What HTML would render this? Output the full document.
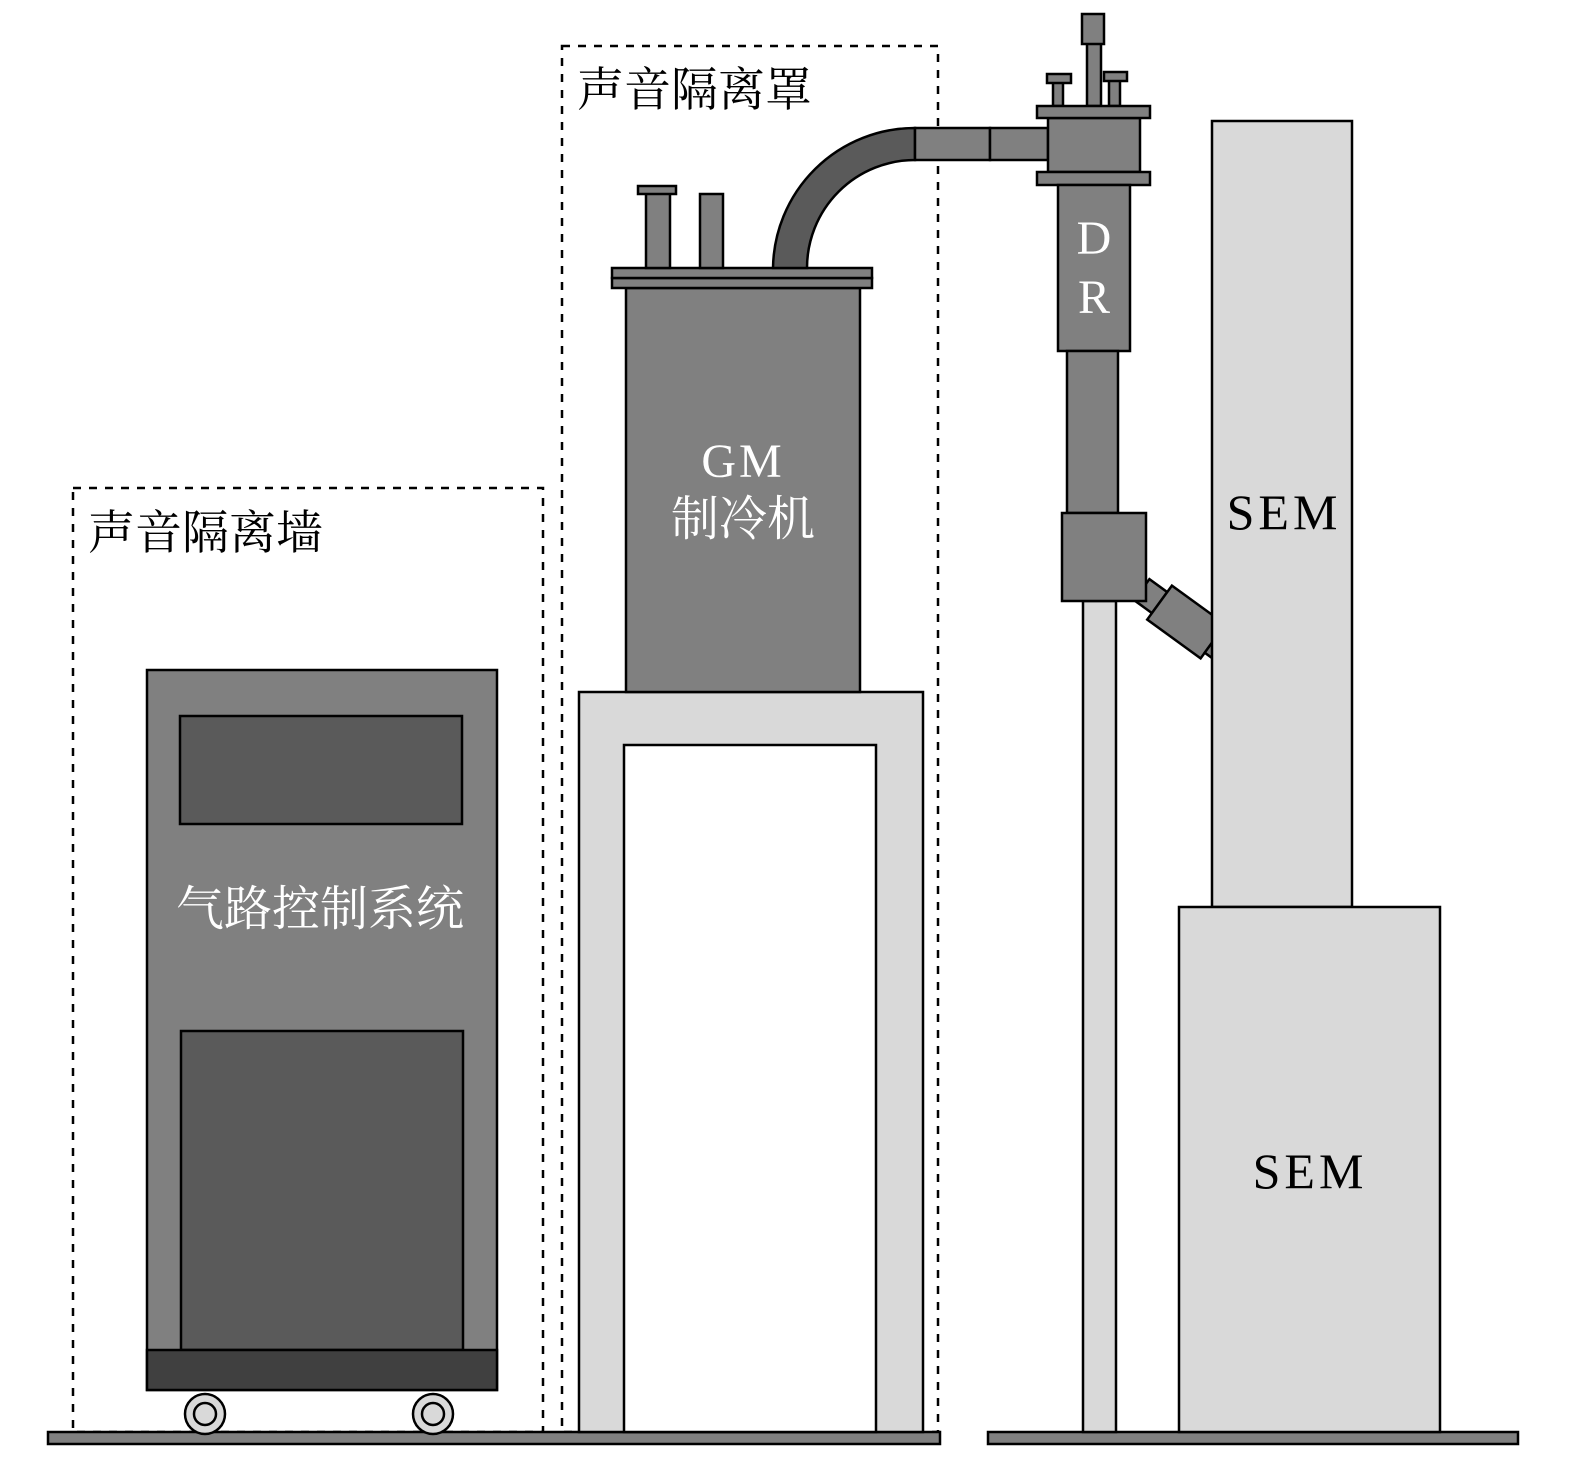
<!DOCTYPE html>
<html><head><meta charset="utf-8"><style>html,body{margin:0;padding:0;background:#fff;overflow:hidden}svg{display:block}</style></head><body>
<svg width="1575" height="1467" viewBox="0 0 1575 1467" xmlns="http://www.w3.org/2000/svg" font-family="'Liberation Serif','Noto Serif CJK SC',serif">
<g stroke="#000" stroke-width="2.5">
<rect x="73" y="488" width="470" height="944" fill="none" stroke-dasharray="8,8"/>
<rect x="562" y="46" width="376" height="1386" fill="none" stroke-dasharray="8,8"/>
<rect x="48" y="1432" width="892" height="12" fill="#808080"/>
<rect x="988" y="1432" width="530" height="12" fill="#808080"/>
<rect x="147" y="670" width="350" height="720" fill="#808080"/>
<rect x="180" y="716" width="282" height="108" fill="#5a5a5a"/>
<rect x="181" y="1031" width="282" height="319" fill="#5a5a5a"/>
<rect x="147" y="1350" width="350" height="40" fill="#404040"/>
<circle cx="205" cy="1414" r="20" fill="#d9d9d9"/><circle cx="205" cy="1414" r="11" fill="#d9d9d9"/>
<circle cx="433" cy="1414" r="20" fill="#d9d9d9"/><circle cx="433" cy="1414" r="11" fill="#d9d9d9"/>
<rect x="579" y="692" width="344" height="740" fill="#d9d9d9"/>
<rect x="624" y="745" width="252" height="687" fill="#fff"/>
<rect x="626" y="288" width="234" height="404" fill="#808080"/>
<rect x="612" y="278" width="260" height="10" fill="#808080"/>
<rect x="612" y="268" width="260" height="10" fill="#808080"/>
<rect x="646" y="192" width="24" height="76" fill="#808080"/>
<rect x="638" y="186" width="38" height="8" fill="#808080"/>
<rect x="700" y="194" width="23" height="74" fill="#808080"/>
<path d="M773,268 A142,142 0 0 1 915,128 L915,160 A108,108 0 0 0 807,268 Z" fill="#5a5a5a"/>
<rect x="915" y="128" width="75" height="32" fill="#808080"/>
<rect x="990" y="128" width="58" height="32" fill="#808080"/>
<rect x="1087" y="42" width="14" height="64" fill="#808080"/>
<rect x="1082" y="14" width="22" height="30" fill="#808080"/>
<rect x="1053" y="82" width="10" height="24" fill="#808080"/>
<rect x="1047" y="74" width="24" height="9" fill="#808080"/>
<rect x="1109" y="80" width="11" height="26" fill="#808080"/>
<rect x="1104" y="72" width="23" height="9" fill="#808080"/>
<rect x="1048" y="118" width="92" height="54" fill="#808080"/>
<rect x="1037" y="106" width="113" height="12" fill="#808080"/>
<rect x="1037" y="172" width="113" height="13" fill="#808080"/>
<rect x="1058" y="185" width="72" height="166" fill="#808080"/>
<rect x="1067" y="351" width="51" height="162" fill="#808080"/>
<rect x="1083" y="601" width="33" height="831" fill="#d9d9d9"/>
<g transform="translate(1145,592) rotate(36)">
<rect x="-4" y="-13" width="22" height="26" fill="#808080"/>
<rect x="18" y="-21" width="66" height="42" fill="#808080"/>
<rect x="84" y="-14" width="20" height="28" fill="#808080"/>
</g>
<rect x="1062" y="513" width="84" height="88" fill="#808080"/>
<rect x="1212" y="121" width="140" height="786" fill="#d9d9d9"/>
<rect x="1179" y="907" width="261" height="525" fill="#d9d9d9"/>
</g>
<g font-size="47">
<text x="88" y="549">声音隔离墙</text>
<text x="577" y="106">声音隔离罩</text>
</g>
<g fill="#fff" font-size="48" text-anchor="middle">
<text x="320" y="925">气路控制系统</text>
<text x="743" y="477" letter-spacing="3">GM</text>
<text x="743" y="535">制冷机</text>
<text x="1094" y="254">D</text>
<text x="1094" y="313">R</text>
</g>
<g font-size="50" text-anchor="middle" letter-spacing="4">
<text x="1284" y="529">SEM</text>
<text x="1310" y="1188">SEM</text>
</g>
</svg>
</body></html>
